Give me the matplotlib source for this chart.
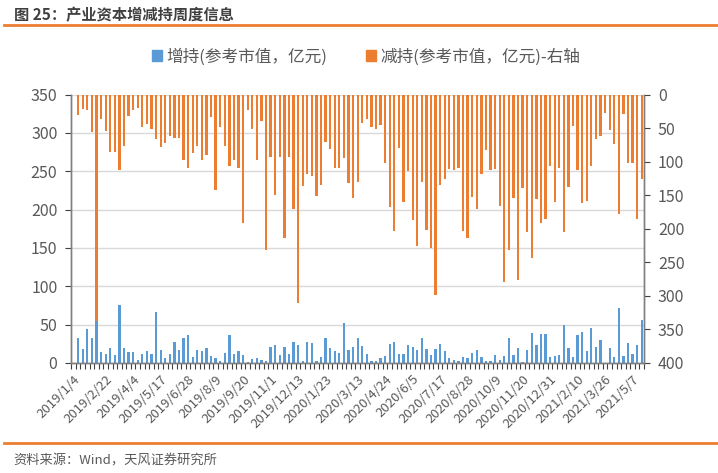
import matplotlib
matplotlib.use("Agg")
import matplotlib.pyplot as plt
from matplotlib.patches import Patch
import numpy as np
import pandas as pd

plt.rcParams["font.family"] = ["Noto Sans CJK SC", "DejaVu Sans"]
plt.rcParams["axes.unicode_minus"] = False

# 周度数据：2019/1/4 起 125 周
start_date = "2019-01-04"
n_weeks = 125

# 增持(参考市值，亿元)，左轴
buy = [0, 32, 18, 44, 33, 55, 14, 12, 20, 11, 76, 20, 14, 14, 3.5, 12, 15, 12, 66, 16.5,
       6.5, 12, 28, 16.5, 32, 37, 8, 16.5, 15, 20, 9, 6.5, 2.6, 13.5, 36, 12, 15, 10, 1.3, 5,
       6, 4.3, 3, 21, 24, 10, 21, 12, 28, 23, 2.6, 28, 26, 2.6, 7.4, 32, 20, 15, 13.5, 52,
       16.5, 21, 32, 22, 12, 3, 3, 6.5, 9, 25, 27, 12, 12, 24, 21, 16.5, 32, 18, 10, 18,
       25, 15, 6.5, 4.3, 3, 8, 6.5, 13.5, 16.5, 8, 3, 3, 10, 4.3, 9, 32, 10, 20, 1.3, 16.5,
       39, 24, 38, 38, 8, 9, 11, 50, 20, 8, 37, 40, 15, 45, 21, 30, 0, 20, 8, 72,
       9, 26, 12, 24, 56]

# 减持(参考市值，亿元)，右轴
sell = [0, 30, 22, 23, 56, 337, 37, 54, 85, 86, 112, 76, 32, 23, 20, 49, 44, 52, 66, 78,
        72, 61, 64, 64, 97, 110, 87, 76, 98, 90, 34, 142, 49, 76, 107, 98, 109, 192, 23, 51,
        98, 39, 232, 93, 149, 93, 214, 93, 170, 311, 136, 119, 121, 151, 134, 70, 81, 110, 110, 95,
        132, 154, 130, 42, 37, 49, 51, 46, 102, 168, 204, 79, 160, 114, 187, 225, 130, 202, 229, 299,
        135, 126, 111, 112, 109, 204, 214, 153, 170, 119, 83, 112, 111, 166, 280, 231, 154, 276, 139, 205,
        243, 156, 192, 185, 107, 160, 109, 205, 137, 47, 112, 161, 158, 107, 66, 62, 27, 53, 73, 178,
        29, 102, 102, 185, 126]

tick_labels = ["2019/1/4", "2019/2/22", "2019/4/4", "2019/5/17", "2019/6/28", "2019/8/9",
               "2019/9/20", "2019/11/1", "2019/12/13", "2020/1/23", "2020/3/13", "2020/4/24",
               "2020/6/5", "2020/7/17", "2020/8/28", "2020/10/9", "2020/11/20", "2020/12/31",
               "2021/2/10", "2021/3/26", "2021/5/7"]

left_ticks = [0, 50, 100, 150, 200, 250, 300, 350]
right_ticks = [0, 50, 100, 150, 200, 250, 300, 350, 400]

BLUE = "#5B9BD5"
ORANGE = "#ED7D31"
TXT = "#595959"

x = np.arange(n_weeks)
t0 = pd.Timestamp(start_date)
label_pos = [round((pd.Timestamp(s.replace("/", "-")) - t0).days / 7) for s in tick_labels]

fig = plt.figure(figsize=(7.18, 4.73), dpi=100)
ax = fig.add_axes([0.0993, 0.2326, 0.7977, 0.5674])
ax2 = ax.twinx()

ax.bar(x, buy, width=0.5, color=BLUE, zorder=2)
ax2.bar(x, sell, width=0.5, color=ORANGE, zorder=2)

ax.set_xlim(-0.5, n_weeks - 0.5)
ax.set_ylim(0, 350)
ax2.set_ylim(400, 0)
ax.set_yticks(left_ticks)
ax2.set_yticks(right_ticks)
ax.yaxis.grid(True, color="#d9d9d9", linewidth=1, zorder=0)
ax.set_axisbelow(True)

ax.set_xticks(label_pos)
ax.set_xticklabels(tick_labels, rotation=45, ha="right", rotation_mode="anchor",
                   fontsize=9.5, color=TXT)
ax.set_xticks(np.arange(-0.5, n_weeks, 1), minor=True)
ax.tick_params(axis="x", which="major", length=0, pad=7)
ax.tick_params(axis="x", which="minor", length=4, width=0.8, color="#404040")

for a in (ax, ax2):
    a.tick_params(axis="y", labelsize=11.5, labelcolor=TXT, length=4, width=0.8,
                  color="#404040", pad=6)
    a.spines["top"].set_visible(False)
    for s in ("left", "right", "bottom"):
        a.spines[s].set_color("#7f7f7f")
        a.spines[s].set_linewidth(1.0)

# 标题、分隔线、来源
fig.text(0.019, 0.985, "图 25：产业资本增减持周度信息", fontsize=11, fontweight="bold",
         color="#404040", va="top", ha="left")
fig.add_artist(plt.Line2D([0.006, 1.0], [0.947, 0.947], color=ORANGE, linewidth=2))
fig.add_artist(plt.Line2D([0.006, 1.0], [0.063, 0.063], color=ORANGE, linewidth=2))
fig.text(0.019, 0.025, "资料来源：Wind，天风证券研究所", fontsize=9.5, color=TXT,
         va="center", ha="left")

handles = [Patch(color=BLUE, label="增持(参考市值，亿元)"),
           Patch(color=ORANGE, label="减持(参考市值，亿元)-右轴")]
fig.legend(handles=handles, loc="center", bbox_to_anchor=(0.51, 0.88), ncol=2,
           frameon=False, fontsize=12, handlelength=0.6, handleheight=0.6,
           handletextpad=0.3, columnspacing=2.3, labelcolor=TXT)

fig.savefig("out.png", dpi=100)
